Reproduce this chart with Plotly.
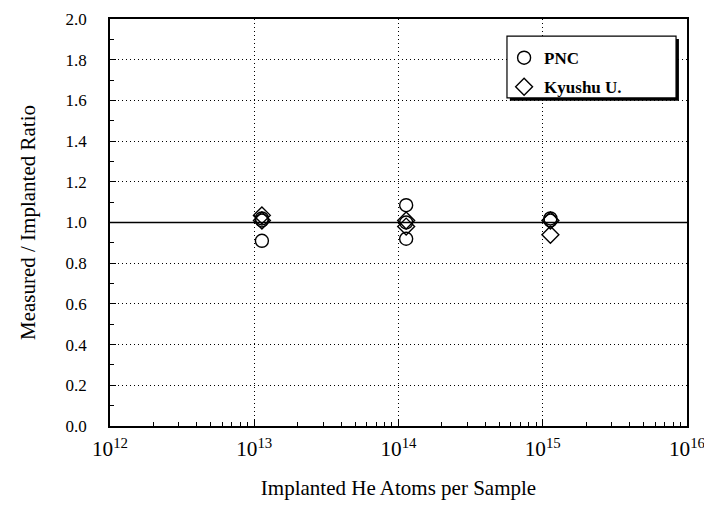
import plotly.graph_objects as go

# Data
pnc_x = [1.13e13, 1.13e13, 1.13e13, 1.13e14, 1.13e14, 1.13e14, 1.13e15, 1.13e15]
pnc_y = [1.02, 1.01, 0.91, 1.085, 1.00, 0.92, 1.02, 1.01]
kyu_x = [1.13e13, 1.13e13, 1.13e14, 1.13e14, 1.13e15, 1.13e15]
kyu_y = [1.035, 1.01, 1.01, 0.98, 1.01, 0.94]

y_ticks = [0.0, 0.2, 0.4, 0.6, 0.8, 1.0, 1.2, 1.4, 1.6, 1.8, 2.0]
y_ticklabels = ["0.0", "0.2", "0.4", "0.6", "0.8", "1.0", "1.2", "1.4", "1.6", "1.8", "2.0"]

FONT = "Liberation Serif"

fig = go.Figure()
fig.add_trace(go.Scatter(
    x=pnc_x, y=pnc_y, mode="markers", name="PNC", legendgroup="a",
    marker=dict(symbol="circle-open", size=13, color="black", line=dict(width=1.4, color="black")),
))
fig.add_trace(go.Scatter(
    x=kyu_x, y=kyu_y, mode="markers", name="Kyushu U.", legendgroup="b",
    marker=dict(symbol="diamond-open", size=13, color="black", line=dict(width=1.4, color="black")),
))

# Reference line at ratio 1.0
fig.add_shape(type="line", xref="paper", yref="y", x0=0, x1=1, y0=1.0, y1=1.0,
              line=dict(color="black", width=1.5), layer="above")

# Legend box with shadow
lx0, lx1, ly0, ly1 = 0.688, 0.981, 0.806, 0.958
fig.add_shape(type="rect", xref="paper", yref="paper", x0=lx0 + 0.005, x1=lx1 + 0.005,
              y0=ly0 - 0.007, y1=ly1 - 0.007, fillcolor="black", line=dict(width=0), layer="above")
fig.add_shape(type="rect", xref="paper", yref="paper", x0=lx0, x1=lx1, y0=ly0, y1=ly1,
              fillcolor="white", line=dict(color="black", width=1.2), layer="above")

grid_dash = "1px,3px"

fig.update_layout(
    width=704, height=507,
    margin=dict(l=110, r=17, t=19, b=81),
    paper_bgcolor="white", plot_bgcolor="white",
    font=dict(family=FONT, color="black", size=16),
    showlegend=True,
    legend=dict(
        x=0.683, y=0.948, xanchor="left", yanchor="top",
        bgcolor="rgba(0,0,0,0)", borderwidth=0,
        font=dict(family=FONT, size=17, color="black", weight="bold"),
        traceorder="grouped", tracegroupgap=4, itemwidth=30,
    ),
    xaxis=dict(
        type="log", range=[12, 16], dtick=1, exponentformat="power",
        showline=True, linecolor="black", linewidth=1.6, mirror=True,
        ticks="inside", ticklen=6, tickcolor="black",
        showgrid=True, gridcolor="black", griddash=grid_dash, gridwidth=1,
        zeroline=False, automargin=False, ticklabeloverflow="allow",
        minor=dict(ticks="inside", ticklen=4, tickcolor="black", dtick="D1", showgrid=False),
        tickfont=dict(family=FONT, size=17),
        ticklabelstandoff=4,
        title=dict(text="Implanted He Atoms per Sample", font=dict(family=FONT, size=21), standoff=20),
    ),
    yaxis=dict(
        range=[0, 2.0], tickvals=y_ticks, ticktext=y_ticklabels,
        showline=True, linecolor="black", linewidth=1.6, mirror=True,
        ticks="inside", ticklen=6, tickcolor="black",
        showgrid=True, gridcolor="black", griddash=grid_dash, gridwidth=1,
        zeroline=False, automargin=False,
        minor=dict(ticks="inside", ticklen=4, tickcolor="black", dtick=0.1, showgrid=False),
        tickfont=dict(family=FONT, size=17),
        ticklabelstandoff=18,
        title=dict(text="Measured / Implanted Ratio", font=dict(family=FONT, size=21), standoff=24),
    ),
)

# Remove the default 8px page margin so the 704x507 figure fills the window exactly
fig.write_html(
    "out.html",
    config={"displayModeBar": False},
    post_script="document.body.style.margin='0';document.body.style.overflow='hidden';",
)
